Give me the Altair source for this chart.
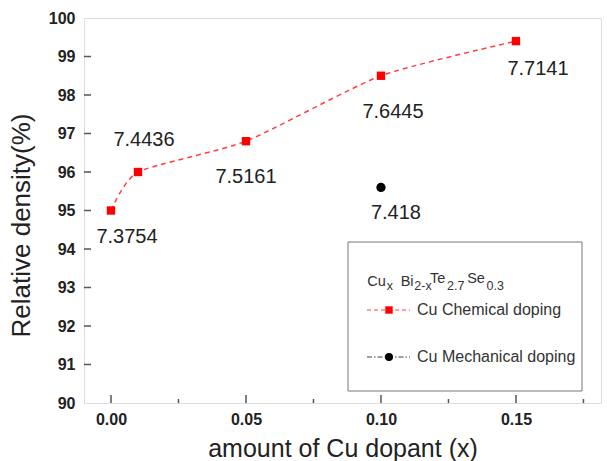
import altair as alt
import pandas as pd

# ---- data ----
x_chem = [0.0, 0.01, 0.05, 0.10, 0.15]
rd_chem = [95.0, 96.0, 96.8, 98.5, 99.4]
dens_chem = ["7.3754", "7.4436", "7.5161", "7.6445", "7.7141"]
x_mech = [0.10]
rd_mech = [95.6]
dens_mech = ["7.418"]

x_major = [0.0, 0.05, 0.10, 0.15]
x_minor = [0.025, 0.075, 0.125, 0.175]
y_major = [90, 91, 92, 93, 94, 95, 96, 97, 98, 99, 100]

# label offsets (pixels) for each point label
chem_off = [(16, 26), (6, -32), (0, 36), (12, 36), (22, 28)]
mech_off = [(15, 26)]

FONT = "Liberation Sans"
W, H = 517, 385
AX = "#555555"

xs = alt.Scale(domain=[-0.01, 0.1815], nice=False, zero=False)
ys = alt.Scale(domain=[90, 100], nice=False, zero=False)

chem = pd.DataFrame({"x": x_chem, "y": rd_chem, "d": dens_chem})
mech = pd.DataFrame({"x": x_mech, "y": rd_mech, "d": dens_mech})

xaxis = alt.Axis(values=x_major, format=".2f", ticks=False, tickSize=0, domain=False, grid=False,
                 labelOverlap=False, labelFlush=False,
                 labelPadding=8, labelFontSize=16, labelFontWeight="bold", labelColor="#222",
                 title="amount of Cu dopant (x)", titleFontSize=25, titleFontWeight="normal",
                 titleColor="#222", titleBaseline="alphabetic", titleY=53)
yaxis = alt.Axis(values=y_major, format="d", ticks=False, tickSize=0, domain=False, grid=False,
                 labelOverlap=False, labelFlush=False,
                 labelPadding=9, labelFontSize=16, labelFontWeight="bold", labelColor="#222",
                 title="Relative density(%)", titleFontSize=26, titleFontWeight="normal",
                 titleColor="#222", titleBaseline="middle", titleX=-63, titleY=207, titleAngle=-90)


def X(field="x"):
    return alt.X(f"{field}:Q", scale=xs, axis=xaxis)


def Y(field="y"):
    return alt.Y(f"{field}:Q", scale=ys, axis=yaxis)


line = alt.Chart(chem).mark_line(color="#ff4040", strokeDash=[5, 4], strokeWidth=1.5,
                                 interpolate="cardinal", tension=0.4).encode(x=X(), y=Y())
pts = alt.Chart(chem).mark_point(shape="square", filled=True, color="#ff0000", size=70, opacity=1).encode(
    x=X(), y=Y())
mpts = alt.Chart(mech).mark_point(shape="circle", filled=True, color="#000000", size=85, opacity=1).encode(
    x=X(), y=Y())

layers = [line, pts, mpts]

for i, (dx, dy) in enumerate(chem_off):
    layers.append(alt.Chart(chem.iloc[[i]]).mark_text(font=FONT, fontSize=20, color="#222", dx=dx, dy=dy)
                  .encode(x=X(), y=Y(), text="d:N"))
for i, (dx, dy) in enumerate(mech_off):
    layers.append(alt.Chart(mech.iloc[[i]]).mark_text(font=FONT, fontSize=20, color="#222", dx=dx, dy=dy)
                  .encode(x=X(), y=Y(), text="d:N"))

# inward ticks
xt_major = pd.DataFrame({"x": x_major})
xt_minor = pd.DataFrame({"x": x_minor})
yt = pd.DataFrame({"y": y_major[1:-1]})
layers.append(alt.Chart(xt_major).mark_rule(color=AX, strokeWidth=1.5).encode(
    x=X(), y=alt.value(H), y2=alt.value(H - 8)))
layers.append(alt.Chart(xt_minor).mark_rule(color=AX, strokeWidth=1.5).encode(
    x=X(), y=alt.value(H), y2=alt.value(H - 4)))
layers.append(alt.Chart(yt).mark_rule(color=AX, strokeWidth=1.5).encode(
    y=Y(), x=alt.value(0), x2=alt.value(7)))

# ---- legend (drawn by hand) ----
one = pd.DataFrame({"k": [0]})
layers.append(alt.Chart(one).mark_rect(fill="white", stroke="#777", strokeWidth=1).encode(
    x=alt.value(264), x2=alt.value(498), y=alt.value(224), y2=alt.value(373)))

title_parts = [
    ("Cu", 283.3, 267.7, 14.5), ("x", 302.7, 272, 12.5), ("Bi", 316.7, 267.7, 14.5), ("2-x", 330.3, 272, 12.5),
    ("Te", 346, 265.3, 14.5), ("2.7", 363, 272, 12.5), ("Se", 383.2, 265.3, 14.5), ("0.3", 402.5, 272, 12.5),
]
for t, px, py, fs in title_parts:
    layers.append(alt.Chart(one).mark_text(text=t, font=FONT, fontSize=fs, color="#333", align="left",
                                           baseline="alphabetic").encode(x=alt.value(px), y=alt.value(py)))

layers.append(alt.Chart(one).mark_rule(color="#ff4040", strokeDash=[4, 3], strokeWidth=1.2).encode(
    x=alt.value(283), x2=alt.value(326), y=alt.value(292)))
layers.append(alt.Chart(one).mark_point(shape="square", filled=True, color="#ff0000", size=55, opacity=1).encode(
    x=alt.value(305), y=alt.value(292)))
layers.append(alt.Chart(one).mark_text(text="Cu Chemical doping", font=FONT, fontSize=16, color="#333",
                                       align="left", baseline="middle").encode(x=alt.value(333), y=alt.value(292)))

layers.append(alt.Chart(one).mark_rule(color="#444", strokeDash=[5, 2, 1.5, 2], strokeWidth=1.2).encode(
    x=alt.value(283), x2=alt.value(326), y=alt.value(339)))
layers.append(alt.Chart(one).mark_point(shape="circle", filled=True, color="#000000", size=65, opacity=1).encode(
    x=alt.value(305), y=alt.value(339)))
layers.append(alt.Chart(one).mark_text(text="Cu Mechanical doping", font=FONT, fontSize=16, color="#333",
                                       align="left", baseline="middle").encode(x=alt.value(333), y=alt.value(339)))

chart = alt.layer(*layers).properties(
    width=W, height=H,
    autosize=alt.AutoSizeParams(type="none"),
    padding={"left": 84, "top": 18, "right": 6, "bottom": 58},
).configure_view(stroke=AX, strokeWidth=1.5).configure_axis(
    labelFont=FONT, titleFont=FONT
).configure(background="white")

chart.save("out.html", embed_options={"renderer": "svg", "actions": False})
